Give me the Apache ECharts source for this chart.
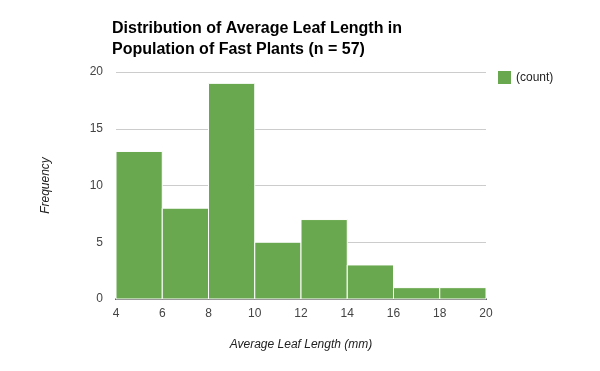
<!DOCTYPE html>
<html><head><meta charset="utf-8">
<script src="https://cdn.jsdelivr.net/npm/echarts@6/dist/echarts.min.js"></script>
<style>html,body{margin:0;padding:0;background:#fff}#c{width:600px;height:371px}</style>
</head><body><div id="c"></div>
<script>
const binStarts = [4, 6, 8, 10, 12, 14, 16, 18];
const binWidth = 2;
const counts = [13, 8, 19, 5, 7, 3, 1, 1];
const xTicks = [4, 6, 8, 10, 12, 14, 16, 18, 20];
const yTicks = [0, 5, 10, 15, 20];

const data = binStarts.map((s, i) => [s, s + binWidth, counts[i]]);
const chart = echarts.init(document.getElementById('c'), null, {renderer: 'canvas'});
chart.setOption({
  animation: false,
  backgroundColor: '#fff',
  title: {
    text: 'Distribution of Average Leaf Length in\nPopulation of Fast Plants (n = 57)',
    left: 112, top: 18, padding: 0,
    textStyle: {fontFamily: 'Liberation Sans, Arial', fontSize: 16, fontWeight: 'bold', color: '#000', lineHeight: 21}
  },
  legend: {
    data: ['(count)'], left: 498, top: 71, padding: 0, itemWidth: 13, itemHeight: 13, icon: 'rect',
    textStyle: {fontFamily: 'Liberation Sans, Arial', fontSize: 12, color: '#222'}
  },
  grid: {left: 116, right: 114, top: 72, bottom: 72},
  xAxis: {
    type: 'value', min: xTicks[0], max: xTicks[xTicks.length - 1], interval: 2,
    name: 'Average Leaf Length (mm)', nameLocation: 'middle', nameGap: 40,
    nameTextStyle: {fontFamily: 'Liberation Sans, Arial', fontSize: 12, fontStyle: 'italic', color: '#222'},
    axisLine: {show: true, lineStyle: {color: '#333', width: 2}},
    axisTick: {show: false}, splitLine: {show: false},
    axisLabel: {margin: 9, fontFamily: 'Liberation Sans, Arial', fontSize: 12, color: '#444'}
  },
  yAxis: {
    type: 'value', min: yTicks[0], max: yTicks[yTicks.length - 1], interval: 5,
    name: 'Frequency', nameLocation: 'middle', nameGap: 64,
    nameTextStyle: {fontFamily: 'Liberation Sans, Arial', fontSize: 12, fontStyle: 'italic', color: '#222'},
    axisLine: {show: false}, axisTick: {show: false},
    splitLine: {lineStyle: {color: '#ccc'}},
    axisLabel: {margin: 13, fontFamily: 'Liberation Sans, Arial', fontSize: 12, color: '#444'}
  },
  series: [{
    name: '(count)', type: 'custom', itemStyle: {color: '#6aa84f'},
    encode: {x: [0, 1], y: 2},
    data: data,
    renderItem: function (params, api) {
      const p0 = api.coord([api.value(0), api.value(2)]);
      const p1 = api.coord([api.value(1), 0]);
      return {
        type: 'rect',
        shape: {x: p0[0], y: p0[1], width: p1[0] - p0[0], height: p1[1] - p0[1]},
        style: {fill: '#6aa84f', stroke: '#fff', lineWidth: 1}
      };
    }
  }]
});
</script></body></html>
